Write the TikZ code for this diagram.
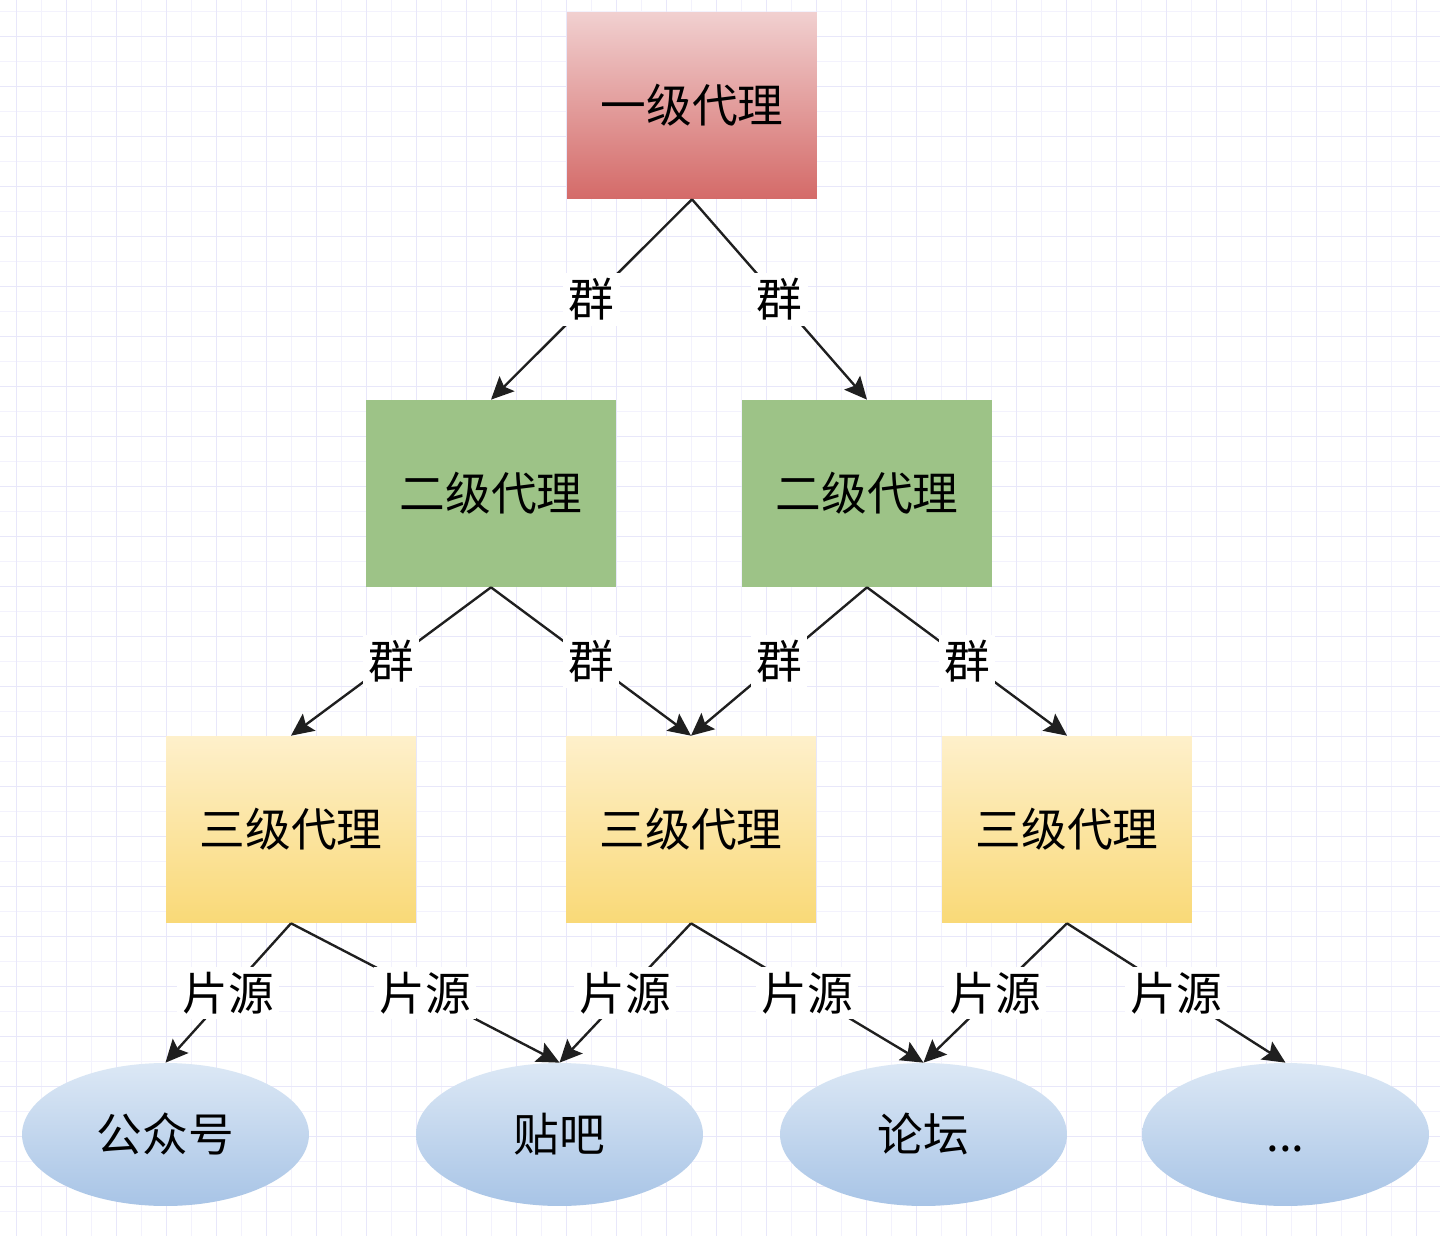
\documentclass[tikz,border=0pt]{standalone}
\usepackage{fontspec}
\setmainfont{Noto Sans CJK SC}
\usetikzlibrary{shapes.geometric,arrows.meta}
\definecolor{gridmajor}{HTML}{E8E7FA}
\definecolor{gridminor}{HTML}{F3F2FD}
\definecolor{redtop}{HTML}{F1D0D0}
\definecolor{redbot}{HTML}{D46A68}
\definecolor{greenfill}{HTML}{9DC387}
\definecolor{yellowtop}{HTML}{FEF0CB}
\definecolor{yellowbot}{HTML}{F9D977}
\definecolor{bluetop}{HTML}{DCE8F5}
\definecolor{bluebot}{HTML}{A8C4E6}
\tikzstyle{agentbox} = [rectangle, minimum width=5cm, minimum height=3.74cm, inner sep=0pt, text height=0.72cm, text depth=0.04cm, font=\fontsize{26}{31}\selectfont]
\tikzstyle{levelone} = [agentbox, top color=redtop, bottom color=redbot]
\tikzstyle{leveltwo} = [agentbox, fill=greenfill]
\tikzstyle{levelthree} = [agentbox, top color=yellowtop, bottom color=yellowbot]
\tikzstyle{site} = [ellipse, minimum width=5.74cm, minimum height=2.86cm, inner sep=0pt, text height=0.72cm, text depth=0.04cm, top color=bluetop, bottom color=bluebot, font=\fontsize{26}{31}\selectfont]
\tikzstyle{arrow} = [line width=1.35pt, draw=black!88, -{Stealth[length=0.45cm, width=0.42cm, inset=0.08cm]}]
\tikzstyle{tag} = [fill=white, inner sep=3pt, font=\fontsize{26}{30}\selectfont]

\begin{document}
\begin{tikzpicture}[x=0.02cm, y=-0.02cm]
    \useasboundingbox[fill=white] (0,0) rectangle (1440,1236);
    % background grid
    \foreach \gx in {41.7,91.7,...,1440} \draw[gridminor, line width=0.7pt] (\gx,0) -- (\gx,1236);
    \foreach \gy in {11.7,61.7,...,1236} \draw[gridminor, line width=0.7pt] (0,\gy) -- (1440,\gy);
    \foreach \gx in {16.7,66.7,...,1440} \draw[gridmajor, line width=0.8pt] (\gx,0) -- (\gx,1236);
    \foreach \gy in {36.7,86.7,...,1236} \draw[gridmajor, line width=0.8pt] (0,\gy) -- (1440,\gy);

    \node (top) [levelone] at (692,105.5) {一级代理};
    \node (mid1) [leveltwo] at (491,493.5) {二级代理};
    \node (mid2) [leveltwo] at (867,493.5) {二级代理};
    \node (low1) [levelthree] at (291,829.5) {三级代理};
    \node (low2) [levelthree] at (691,829.5) {三级代理};
    \node (low3) [levelthree] at (1067,829.5) {三级代理};
    \node (wechat) [site] at (165.5,1134.5) {公众号};
    \node (tieba) [site] at (559.5,1134.5) {贴吧};
    \node (forum) [site] at (923.5,1134.5) {论坛};
    \node (more) [site] at (1285.5,1134.5) {...};

    \draw[arrow] (top.south) -- (mid1.north) node[midway, tag] {群};
    \draw[arrow] (top.south) -- (mid2.north) node[midway, tag] {群};
    \draw[arrow] (mid1.south) -- (low1.north) node[midway, tag] {群};
    \draw[arrow] (mid1.south) -- (low2.north) node[midway, tag] {群};
    \draw[arrow] (mid2.south) -- (low2.north) node[midway, tag] {群};
    \draw[arrow] (mid2.south) -- (low3.north) node[midway, tag] {群};
    \draw[arrow] (low1.south) -- (wechat.north) node[midway, tag] {片源};
    \draw[arrow] (low1.south) -- (tieba.north) node[midway, tag] {片源};
    \draw[arrow] (low2.south) -- (tieba.north) node[midway, tag] {片源};
    \draw[arrow] (low2.south) -- (forum.north) node[midway, tag] {片源};
    \draw[arrow] (low3.south) -- (forum.north) node[midway, tag] {片源};
    \draw[arrow] (low3.south) -- (more.north) node[midway, tag] {片源};
  \end{tikzpicture}
\end{document}
